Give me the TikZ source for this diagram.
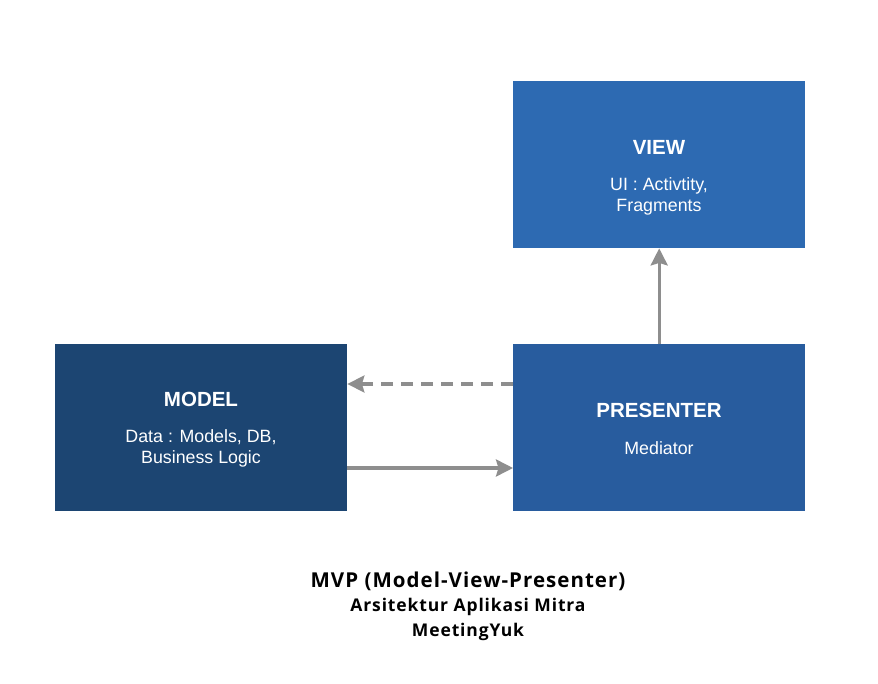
\documentclass[tikz,border=0pt]{standalone}
\usepackage{fontspec}
\setmainfont{Liberation Sans}
\newfontfamily\capfont[LetterSpace=5]{Open Sans}
\usetikzlibrary{arrows.meta}

\definecolor{viewblue}{HTML}{2D6AB2}
\definecolor{presblue}{HTML}{285C9E}
\definecolor{modelblue}{HTML}{1C4572}
\definecolor{arrowgray}{HTML}{8E8E8E}

\begin{document}
\begin{tikzpicture}[x=1pt,y=-1pt,
    box/.style={minimum width=292pt,minimum height=167pt,inner sep=0pt,anchor=north west},
    boxtitle/.style={text=white,font=\bfseries\fontsize{20.5}{24}\selectfont},
    boxtext/.style={text=white,align=center,font=\fontsize{17.8}{21}\selectfont},
    link/.style={draw=arrowgray,line width=3.2pt,-{Stealth[length=17pt,width=17pt,inset=2.5pt]}}]
  \useasboundingbox[fill=white] (0,0) rectangle (878,684);
  % boxes
  \node[box,fill=viewblue] (view) at (513,81) {};
  \node[box,fill=modelblue] (model) at (55,344) {};
  \node[box,fill=presblue] (presenter) at (513,344) {};
  \node[boxtitle] (viewtitle) at (659,147) {VIEW};
  \node[boxtext] (viewtext) at (659,196.5) {UI : Activtity,\\Fragments};
  \node[boxtitle] (modeltitle) at (201,399) {MODEL};
  \node[boxtext] (modeltext) at (201,448.5) {Data : Models, DB,\\Business Logic};
  \node[boxtitle] (prestitle) at (659,410) {PRESENTER};
  \node[boxtext] (prestext) at (659,448) {Mediator};
  % arrows
  \draw[link] (presenter.north) -- (view.south);
  \draw[link,dash pattern=on 12pt off 8pt] (presenter.west |- 0,384) -- (model.east |- 0,384);
  \draw[link] (model.east |- 0,468) -- (presenter.west |- 0,468);
  % caption
  \node[align=center,font=\capfont\bfseries\fontsize{17.5}{24.5}\selectfont] (caption) at (468,606)
    {{\fontsize{20.5}{24}\selectfont MVP (Model-View-Presenter)}\\Arsitektur Aplikasi Mitra\\MeetingYuk};
\end{tikzpicture}
\end{document}
